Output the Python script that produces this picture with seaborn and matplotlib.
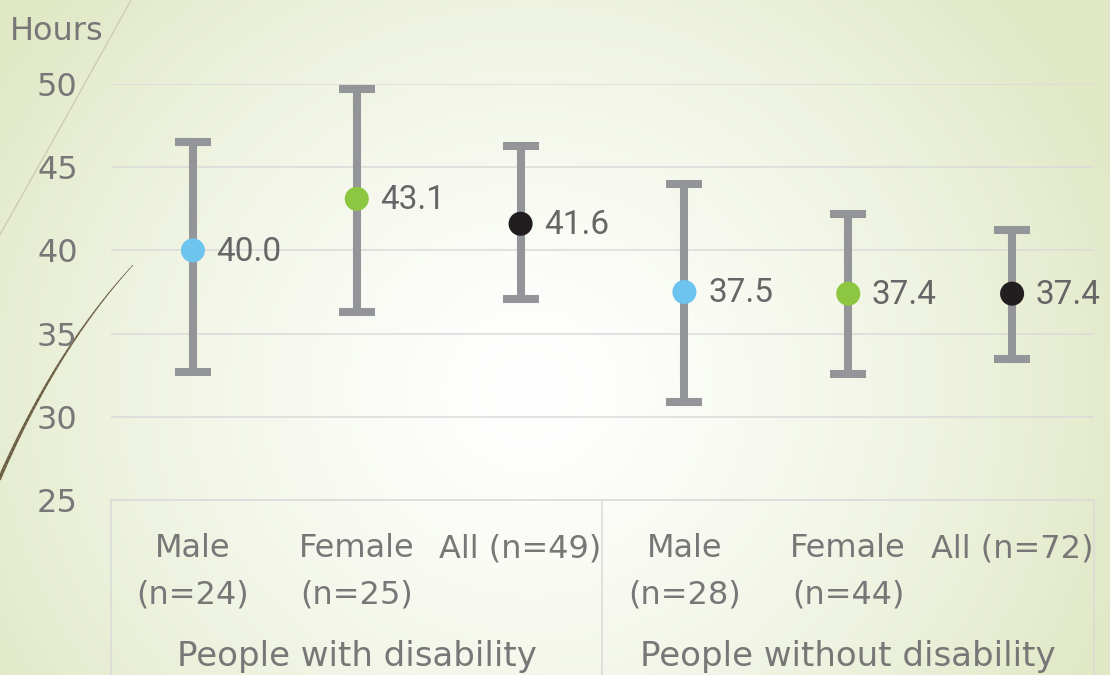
import numpy as np
import pandas as pd
import matplotlib
matplotlib.use("Agg")
import matplotlib.pyplot as plt
from matplotlib.collections import LineCollection
import seaborn as sns

# ---------------- data ----------------
groups = ["People with disability", "People without disability"]
categories = ["Male\n(n=24)", "Female\n(n=25)", "All (n=49)",
              "Male\n(n=28)", "Female\n(n=44)", "All (n=72)"]
sex = ["Male", "Female", "All", "Male", "Female", "All"]
means = [40.0, 43.1, 41.6, 37.5, 37.4, 37.4]
upper = [46.5, 49.7, 46.3, 44.0, 42.2, 41.2]
lower = [32.7, 36.3, 37.1, 30.9, 32.6, 33.5]
yticks = [25, 30, 35, 40, 45, 50]
y_title = "Hours"

palette = {"Male": "#6cc4ef", "Female": "#8dc641", "All": "#221e1f"}

sns.set_theme(style="white")
plt.rcParams["font.family"] = ["DejaVu Sans"]

W, H = 1110, 675
fig = plt.figure(figsize=(W / 100, H / 100), dpi=100)

# ---------------- background gradient ----------------
bg = fig.add_axes([0, 0, 1, 1], zorder=-10)
yy, xx = np.mgrid[0:H, 0:W]
d = np.sqrt(((xx - 530) / 640.0) ** 2 + ((yy - 390) / 600.0) ** 2)
t = np.clip(d, 0, 1) ** 1.4
edge = np.array([224, 232, 197]) / 255.0
img = (1 - t)[..., None] * np.ones(3) + t[..., None] * edge
bg.imshow(img, extent=[0, W, H, 0], aspect="auto", interpolation="bilinear")
bg.set_xlim(0, W)
bg.set_ylim(H, 0)
bg.axis("off")

# decorative thin light line
tt = np.linspace(0, 1, 60)
p0, p1, p2 = np.array([131, 0]), np.array([66, 118]), np.array([-2, 238])
pts = ((1 - tt) ** 2)[:, None] * p0 + (2 * (1 - tt) * tt)[:, None] * p1 + (tt ** 2)[:, None] * p2
bg.plot(pts[:, 0], pts[:, 1], color="#c9cbb4", lw=0.9)

# decorative dark curve, tapering
p0, p1, p2 = np.array([133, 265]), np.array([55, 350]), np.array([-2, 482])
pts = ((1 - tt) ** 2)[:, None] * p0 + (2 * (1 - tt) * tt)[:, None] * p1 + (tt ** 2)[:, None] * p2
segs = np.stack([pts[:-1], pts[1:]], axis=1)
lc = LineCollection(segs, colors="#6b5f43", linewidths=np.linspace(0.5, 2.6, len(segs)))
bg.add_collection(lc)

# ---------------- main axes ----------------
ax = fig.add_axes([111 / W, (H - 500) / H, (1094 - 111) / W, 416 / H])
ax.patch.set_alpha(0)

x = np.arange(len(categories))
df = pd.DataFrame({"x": x, "mean": means, "sex": sex,
                   "lo": lower, "hi": upper, "cat": categories})

ax.errorbar(df["x"], df["mean"],
            yerr=[df["mean"] - df["lo"], df["hi"] - df["mean"]],
            fmt="none", ecolor="#939598", elinewidth=5.8,
            capsize=13, capthick=5.8, zorder=2)

sns.scatterplot(data=df, x="x", y="mean", hue="sex", palette=palette,
                s=300, edgecolor="none", legend=False, ax=ax, zorder=3)

for xi, m in zip(x, means):
    ax.annotate(f"{m:.1f}", (xi, m), xytext=(17, -1), textcoords="offset points",
                ha="left", va="center", fontsize=24, color="#666666",
                family=["Roboto", "DejaVu Sans"], zorder=4)

ax.set_xlim(-0.5, len(categories) - 0.5)
ax.set_ylim(yticks[0], yticks[-1])
ax.set_yticks(yticks)
ax.set_yticklabels([str(v) for v in yticks])
ax.yaxis.grid(True, color="#dadada", lw=1.1)
ax.set_axisbelow(True)
ax.set_xlabel("")
ax.set_ylabel("")

ax.set_xticks(x)
ax.set_xticklabels(categories, linespacing=1.62)
ax.tick_params(axis="x", length=0, pad=24, labelsize=23, labelcolor="#777777")
ax.tick_params(axis="y", length=0, pad=24, labelsize=23, labelcolor="#777777")

for s in ["top", "left", "right"]:
    ax.spines[s].set_visible(False)
ax.spines["bottom"].set_color("#dadada")
ax.spines["bottom"].set_linewidth(1.1)

# category box separators
trans = ax.get_xaxis_transform()
for xb in [-0.5, 2.5, 5.5]:
    ax.plot([xb, xb], [0, -0.43], transform=trans, color="#dadada",
            lw=1.1, clip_on=False)

# group labels
for gi, g in enumerate(groups):
    ax.text(gi * 3 + 1, -0.40, g, transform=trans, ha="center",
            va="baseline", fontsize=24.5, color="#777777")

fig.text(10 / W, 1 - 31 / H, y_title, ha="left", va="center",
         fontsize=23, color="#777777")

fig.savefig("out.png", dpi=100)
